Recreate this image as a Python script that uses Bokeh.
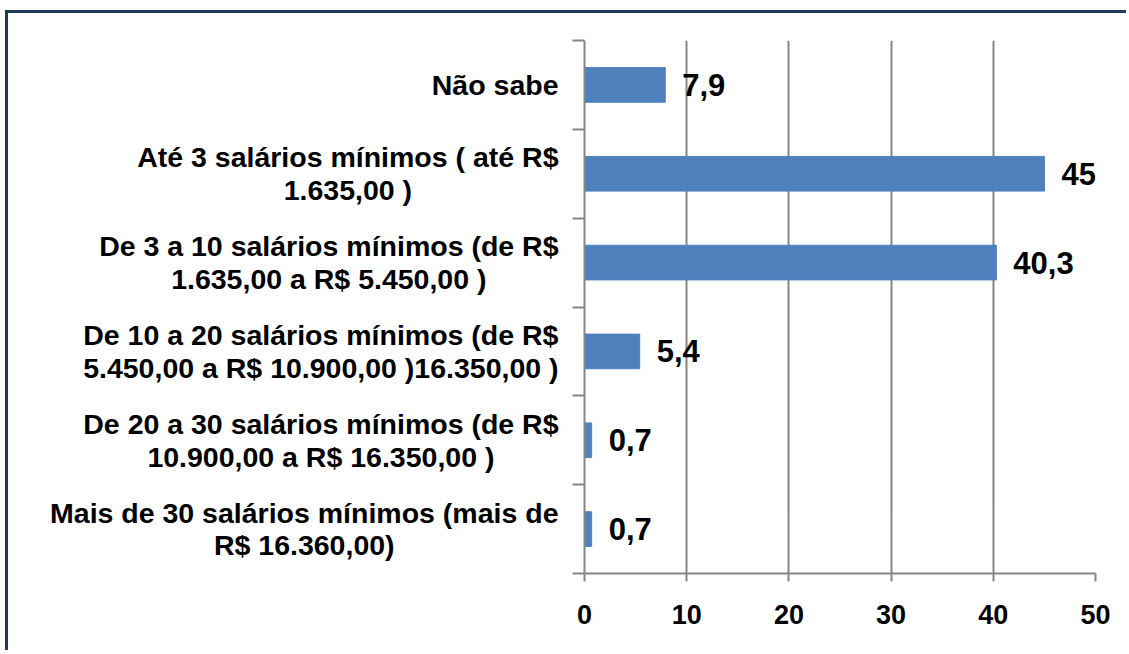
from bokeh.plotting import figure
from bokeh.layouts import row
from bokeh.models import Range1d, FixedTicker, LabelSet, ColumnDataSource
from bokeh.core.properties import value
from bokeh.embed import file_html
from bokeh.resources import INLINE

# ---- data (bottom to top) ----
categories = [
    "Mais de 30 salários mínimos (mais de\nR$ 16.360,00)",
    "De 20 a 30 salários mínimos (de R$\n10.900,00 a R$ 16.350,00 )",
    "De 10 a 20 salários mínimos (de R$\n5.450,00 a R$ 10.900,00 )16.350,00 )",
    "De 3 a 10 salários mínimos (de R$\n1.635,00 a R$ 5.450,00 )",
    "Até 3 salários mínimos ( até R$\n1.635,00 )",
    "Não sabe",
]
percent = [0.7, 0.7, 5.4, 40.3, 45, 7.9]
x_ticks = [0, 10, 20, 30, 40, 50]

# ---- styling ----
FONT = "Liberation Sans"
BAR = "#4F81BD"
GRID = "#868686"
FRAME_COLOR = "#1F3A5C"
CAT_FONT = 28.5
H = 640
TOP, BOTTOM = 27, 80
LEFT_W = 556          # width of the label panel
LABEL_RIGHT = 550     # right edge of the longest label line inside the label panel

# Arial / Liberation Sans Bold advance widths (per 1000 em)
AW = {" ": 278, "$": 556, "(": 333, ")": 333, ",": 278, ".": 278,
      "A": 722, "D": 722, "M": 833, "N": 722, "R": 722,
      "a": 556, "b": 611, "d": 611, "e": 556, "i": 278, "l": 278, "m": 889,
      "n": 611, "o": 611, "r": 389, "s": 556, "t": 333,
      "á": 556, "ã": 556, "é": 556, "í": 278}


def text_width(s, size):
    return sum(AW.get(c, 556) for c in s) * size / 1000.0


centers = [i + 0.5 for i in range(len(categories))]
bounds = list(range(len(categories) + 1))
texts = [f"{v:g}".replace(".", ",") for v in percent]
src = ColumnDataSource(dict(y=centers, v=percent, t=texts))

label_x = [LABEL_RIGHT - max(text_width(l, CAT_FONT) for l in c.split("\n")) / 2.0
           for c in categories]
cat_src = ColumnDataSource(dict(x=label_x, y=centers, t=categories))

# ---- left panel with the category labels ----
lp = figure(width=LEFT_W, height=H, output_backend="svg", toolbar_location=None,
            x_range=Range1d(0, LEFT_W), y_range=Range1d(0, len(categories)),
            x_axis_type=None, y_axis_type=None,
            min_border_left=0, min_border_right=0,
            min_border_top=TOP, min_border_bottom=BOTTOM)
lp.outline_line_color = None
lp.grid.visible = False
lp.styles = {"overflow": "hidden"}
lp.text(x="x", y="y", text="t", source=cat_src, text_align="center",
        text_baseline="middle", text_font=value(FONT), text_font_style="bold",
        text_font_size=f"{CAT_FONT}px", text_color="black", text_line_height=1.02)

# ---- main chart ----
p = figure(width=565, height=H, output_backend="svg", toolbar_location=None,
           x_range=Range1d(0, 50), y_range=Range1d(0, len(categories)),
           min_border_left=20, min_border_right=34, min_border_top=TOP,
           min_border_bottom=BOTTOM)
p.outline_line_color = None
p.styles = {"overflow": "hidden"}

p.hbar(y="y", right="v", left=0, height=0.39, source=src, color=BAR, line_color=BAR)

xa = p.xaxis[0]
xa.ticker = FixedTicker(ticks=x_ticks, minor_ticks=[])
xa.axis_line_color = GRID
xa.axis_line_width = 2
xa.major_tick_line_color = GRID
xa.major_tick_line_width = 2
xa.major_tick_out = 8
xa.major_tick_in = 0
xa.minor_tick_line_color = None
xa.major_label_text_font = FONT
xa.major_label_text_font_style = "bold"
xa.major_label_text_font_size = "27px"
xa.major_label_text_color = "black"
xa.major_label_standoff = 23

ya = p.yaxis[0]
ya.ticker = FixedTicker(ticks=centers, minor_ticks=bounds)
ya.major_label_overrides = {c: "" for c in centers}
ya.major_label_text_font_size = "0px"
ya.major_label_standoff = 0
ya.axis_line_color = GRID
ya.axis_line_width = 2
ya.major_tick_line_color = None
ya.major_tick_out = 0
ya.major_tick_in = 0
ya.minor_tick_line_color = GRID
ya.minor_tick_line_width = 2
ya.minor_tick_out = 12
ya.minor_tick_in = 0

p.xgrid.ticker = FixedTicker(ticks=x_ticks)
p.xgrid.grid_line_color = GRID
p.xgrid.grid_line_width = 2
p.ygrid.grid_line_color = None

p.add_layout(LabelSet(x="v", y="y", text="t", source=src, x_offset=17,
                      text_baseline="middle", text_align="left",
                      text_font=value(FONT), text_font_style="bold",
                      text_font_size="31px", text_color="black"))

layout = row(lp, p, spacing=0)
# dark frame visible on the left and top edges only
layout.styles = {"box-shadow": f"-3px -3px 0px 0px {FRAME_COLOR}",
                 "margin-left": "8px", "margin-top": "13px",
                 "overflow": "hidden"}

open("out.html", "w").write(file_html(layout, INLINE))
